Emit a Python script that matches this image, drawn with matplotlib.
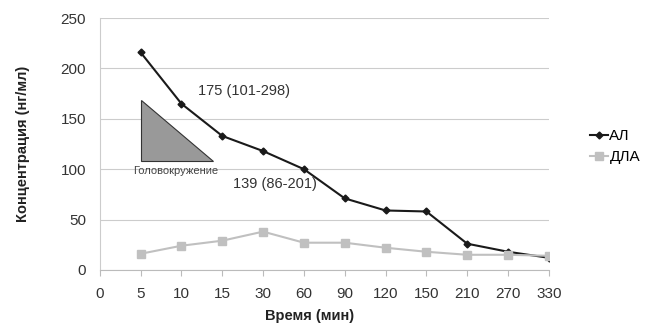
import matplotlib.pyplot as plt
from matplotlib.patches import Polygon

plt.rcParams['font.family'] = ['Liberation Sans', 'DejaVu Sans']

time_labels = ['0', '5', '10', '15', '30', '60', '90', '120', '150', '210', '270', '330']
al = [216, 165, 133, 118, 100, 71, 59, 58, 26, 18, 12]
dla = [16, 24, 29, 38, 27, 27, 22, 18, 15, 15, 14]
yticks = [0, 50, 100, 150, 200, 250]

pos = list(range(1, len(time_labels)))

fig = plt.figure(figsize=(6.48, 3.24), dpi=100)
ax = fig.add_axes([0.154, 0.167, 0.693, 0.777])

ax.plot(pos, al, color='#1a1a1a', marker='D', markersize=3.5, linewidth=1.5, label='АЛ')
ax.plot(pos, dla, color='#c0c0c0', marker='s', markersize=6, linewidth=1.5, label='ДЛА')

tri = Polygon([[1.0, 169], [1.0, 108], [2.77, 108]], closed=True,
              facecolor='#999999', edgecolor='#333333', linewidth=0.8)
ax.add_patch(tri)
ax.text(1.85, 98, 'Головокружение', fontsize=8, color='#444444', ha='center', va='center')
ax.text(3.53, 178, '175 (101-298)', fontsize=10.5, color='#333333', ha='center', va='center')
ax.text(4.3, 85, '139 (86-201)', fontsize=10.5, color='#333333', ha='center', va='center')

ax.set_xlim(0, len(time_labels) - 1)
ax.set_ylim(0, 250)
ax.set_xticks(range(len(time_labels)))
ax.set_xticklabels(time_labels)
ax.set_yticks(yticks)
ax.tick_params(axis='both', labelsize=11, colors='#333333', length=4, color='#bbbbbb')
ax.tick_params(axis='y', length=0, pad=10)
ax.tick_params(axis='x', pad=8)
ax.grid(axis='y', color='#cccccc', linewidth=0.8)
ax.set_axisbelow(True)
for s in ['top', 'right']:
    ax.spines[s].set_visible(False)
ax.spines['left'].set_color('#cccccc')
ax.spines['bottom'].set_color('#bbbbbb')

ax.set_xlabel('Время (мин)', fontsize=10.5, fontweight='bold', color='#222222')
ax.xaxis.set_label_coords(0.467, -0.155)
ax.set_ylabel('Концентрация (нг/мл)', fontsize=10.5, fontweight='bold', color='#222222')
ax.yaxis.set_label_coords(-0.156, 0.5)

ax.legend(loc='center left', bbox_to_anchor=(1.06, 0.49), frameon=False, fontsize=11,
          handlelength=1.2, handletextpad=0.1, labelspacing=0.45)

fig.savefig('out.png', dpi=100)
